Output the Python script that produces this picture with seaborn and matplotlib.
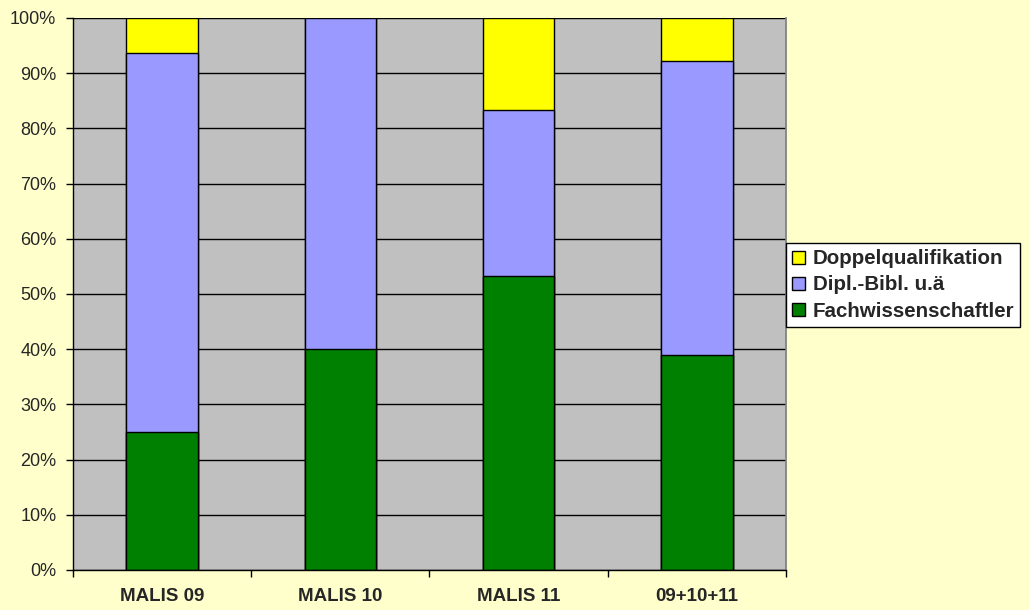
import numpy as np
import pandas as pd
import matplotlib.pyplot as plt
import seaborn as sns

# data (percent shares per cohort)
cohorts = ['MALIS 09', 'MALIS 10', 'MALIS 11', '09+10+11']
fachwiss = [25.0, 40.0, 53.3, 38.9]
dipl_bibl = [68.75, 60.0, 30.0, 53.3]
doppel = [6.25, 0.0, 16.7, 7.8]
y_ticks = list(range(0, 101, 10))

sns.set_theme(style='white')
plt.rcParams['font.family'] = ['Liberation Sans', 'DejaVu Sans']

fig = plt.figure(figsize=(10.29, 6.10), dpi=100, facecolor='#FFFFCC')
ax = fig.add_axes([73 / 1029, 1 - 570 / 610, (786 - 73) / 1029, (570 - 18) / 610])
ax.set_facecolor('#C0C0C0')

df = pd.DataFrame({'cohort': cohorts, 'Fachwissenschaftler': fachwiss,
                   'Dipl.-Bibl. u.ä': dipl_bibl, 'Doppelqualifikation': doppel})
df['top'] = df['Fachwissenschaftler'] + df['Dipl.-Bibl. u.ä'] + df['Doppelqualifikation']
df['mid'] = df['Fachwissenschaftler'] + df['Dipl.-Bibl. u.ä']

for y in y_ticks:
    ax.axhline(y, color='black', lw=1, zorder=1)

# stacked bars: draw cumulative heights back to front
layers = [('top', '#FFFF00', 'Doppelqualifikation'),
          ('mid', '#9999FF', 'Dipl.-Bibl. u.ä'),
          ('Fachwissenschaftler', '#008000', 'Fachwissenschaftler')]
for col, color, label in layers:
    sns.barplot(data=df, x='cohort', y=col, color=color, saturation=1, width=0.4,
                edgecolor='black', linewidth=1, label=label, ax=ax, zorder=2)

ax.set_xlim(-0.5, 3.5)
ax.set_ylim(0, 100)
ax.set_yticks(y_ticks)
ax.set_yticklabels([f'{t}%' for t in y_ticks], fontsize=13)
ax.set_xticks(range(len(cohorts)))
ax.set_xticklabels(cohorts, fontsize=13.5, fontweight='bold')
ax.tick_params(axis='x', length=0, pad=13)
ax.tick_params(axis='y', length=5, width=1, color='black', direction='out', pad=7, left=True)
ax.set_xticks([-0.5, 0.5, 1.5, 2.5, 3.5], minor=True)
ax.tick_params(axis='x', which='minor', length=5, width=1, color='black', direction='out', bottom=True)
ax.set_xlabel('')
ax.set_ylabel('')

for side in ['left', 'bottom']:
    ax.spines[side].set_color('black')
    ax.spines[side].set_linewidth(1)
ax.spines['top'].set_visible(False)
ax.spines['right'].set_color('#808080')

leg = ax.legend(loc='center left', bbox_to_anchor=(786 / 1029, 1 - 285 / 610),
                bbox_transform=fig.transFigure, frameon=True, fancybox=False,
                edgecolor='black', facecolor='white', framealpha=1,
                prop={'weight': 'bold', 'size': 14.8}, handlelength=0.6,
                handleheight=0.6, handletextpad=0.4, borderpad=0.3, labelspacing=0.35,
                borderaxespad=0)
leg.get_frame().set_linewidth(1)

fig.savefig('out.png', dpi=100, facecolor=fig.get_facecolor())
